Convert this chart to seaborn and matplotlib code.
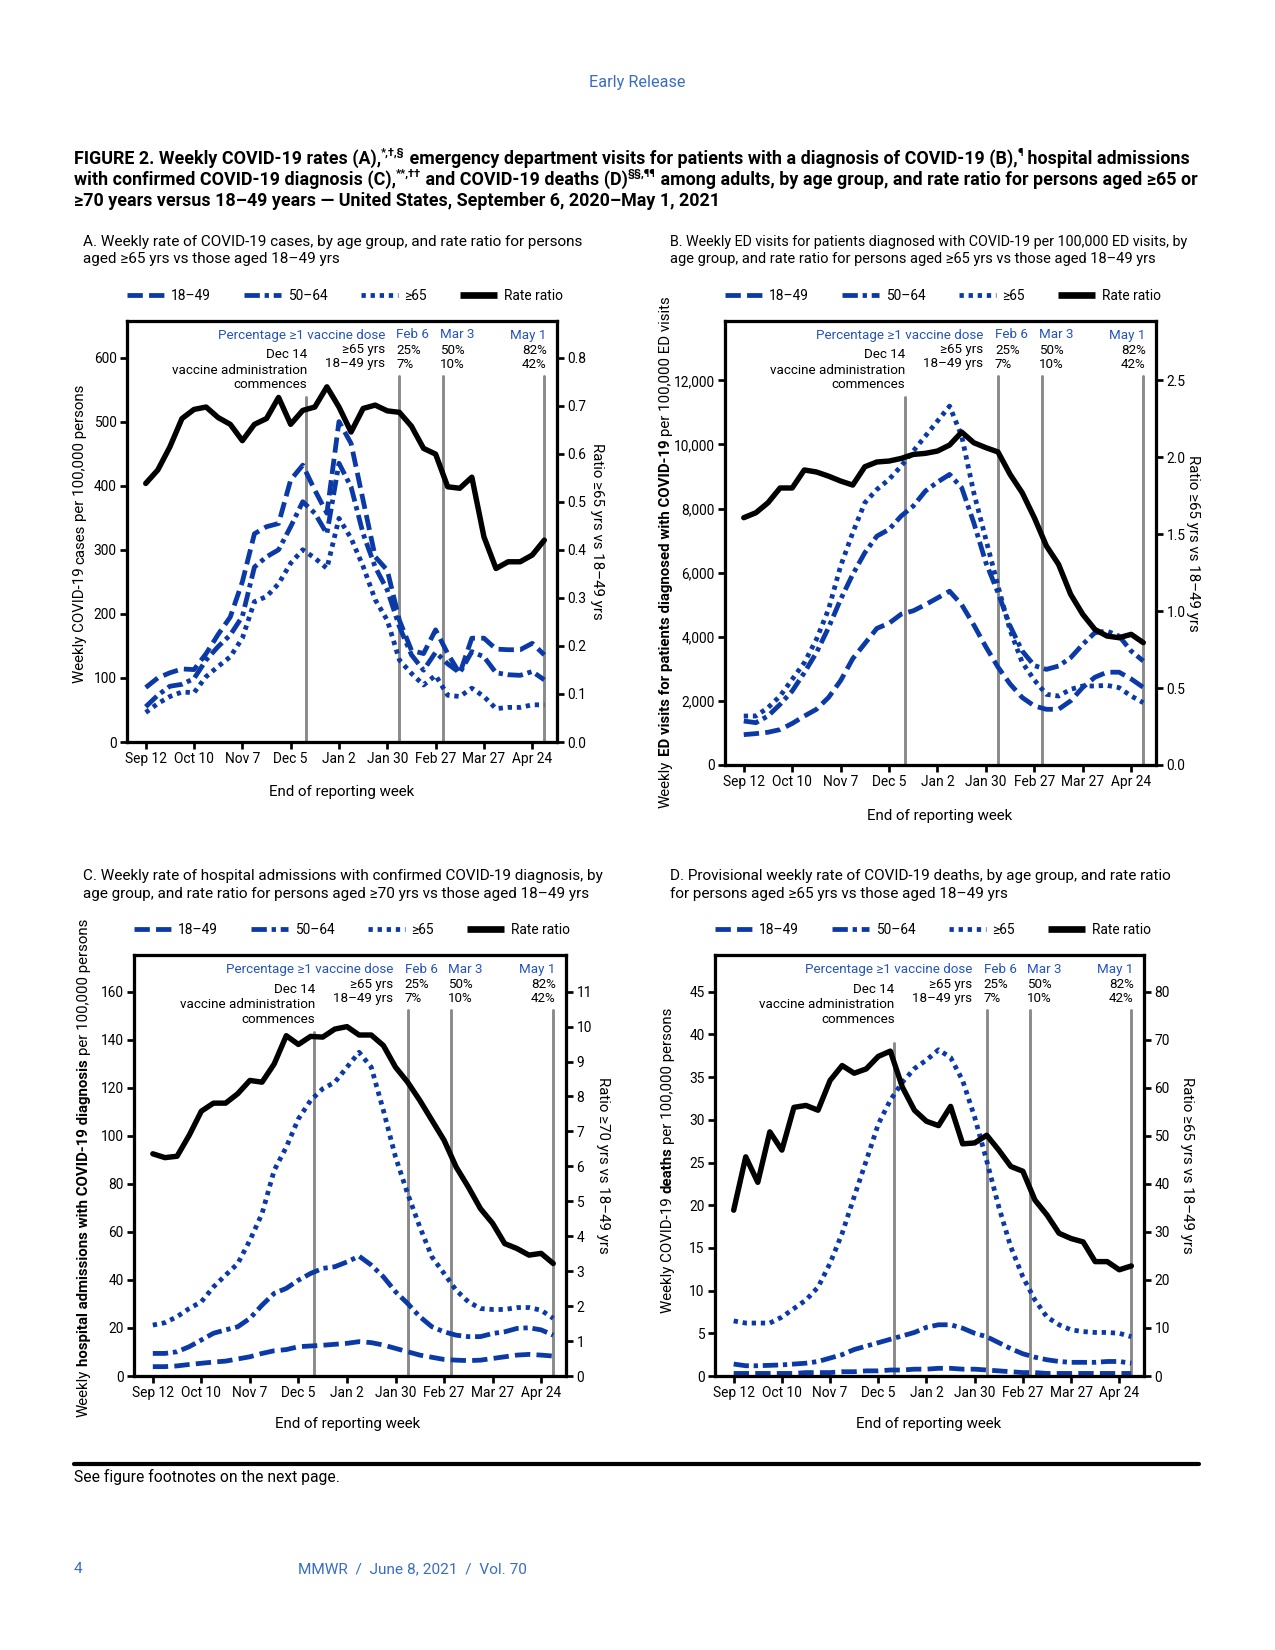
import numpy as np
import pandas as pd
import matplotlib
matplotlib.use('Agg')
import matplotlib.pyplot as plt
import matplotlib.transforms as mtransforms
from matplotlib.lines import Line2D
import seaborn as sns

sns.set_style('ticks', {'axes.edgecolor': 'black', 'text.color': 'black',
                        'xtick.color': 'black', 'ytick.color': 'black',
                        'axes.labelcolor': 'black'})
plt.rcParams['font.family'] = ['Roboto', 'DejaVu Sans']

BLUE = '#0b3aa6'
TXTBLUE = '#2453c0'
PAGEBLUE = '#3a6cc6'
GRAY = '#8a8a8a'

# ---- data (weeks ending Sep 12, 2020 ... May 1, 2021) ----
weeks = np.arange(34)
week_ticks = [0, 4, 8, 12, 16, 20, 24, 28, 32]
week_labels = ['Sep 12', 'Oct 10', 'Nov 7', 'Dec 5', 'Jan 2', 'Jan 30', 'Feb 27', 'Mar 27', 'Apr 24']
groups = ['18–49', '50–64', '≥65']
# event dates as week index: Dec 14, Feb 6, Mar 3, May 1
vline_weeks = [13.3, 21, 24.6, 33]

A_1849 = [85, 100, 108, 114, 113, 138, 168, 195, 250, 325, 336, 341, 409, 432, 393, 357, 500,
          466, 377, 289, 268, 190, 143, 138, 175, 138, 107, 162, 162, 145, 144, 144, 154, 136]
A_5064 = [55, 73, 87, 90, 99, 128, 149, 167, 196, 273, 289, 300, 336, 375, 357, 325, 435,
          398, 325, 273, 237, 180, 136, 112, 140, 122, 108, 141, 133, 108, 105, 104, 110, 97]
A_65 = [46, 60, 71, 78, 77, 102, 118, 133, 162, 219, 227, 247, 279, 300, 287, 271, 349,
        318, 274, 222, 190, 128, 107, 89, 104, 73, 71, 84, 71, 52, 54, 54, 58, 58]
A_ratio = [0.538, 0.566, 0.614, 0.673, 0.692, 0.697, 0.675, 0.661, 0.627, 0.661, 0.673, 0.717,
           0.661, 0.690, 0.697, 0.739, 0.697, 0.645, 0.694, 0.701, 0.689, 0.686, 0.657, 0.611,
           0.599, 0.531, 0.528, 0.551, 0.427, 0.361, 0.375, 0.375, 0.389, 0.420]

B_1849 = [947, 979, 1021, 1105, 1295, 1526, 1737, 2105, 2632, 3316, 3789, 4263, 4421, 4705,
          4810, 5000, 5210, 5421, 5000, 4368, 3684, 3053, 2526, 2105, 1842, 1737, 1737, 2000,
          2421, 2737, 2895, 2895, 2684, 2421]
B_5064 = [1372, 1320, 1528, 1892, 2308, 2879, 3503, 4283, 5166, 5946, 6622, 7141, 7349, 7765,
          8077, 8545, 8825, 9064, 8649, 7557, 6310, 5374, 4335, 3555, 3100, 2983, 3087, 3347,
          3763, 4127, 4179, 4023, 3555, 3243]
B_65 = [1528, 1528, 1788, 2152, 2672, 3191, 3919, 4854, 6206, 7245, 8181, 8597, 8909, 9324,
        9792, 10260, 10728, 11195, 10260, 8493, 7037, 5582, 4200, 3200, 2650, 2204, 2152, 2360,
        2464, 2464, 2484, 2412, 2152, 1944]
B_ratio = [1.607, 1.639, 1.704, 1.80, 1.80, 1.917, 1.904, 1.877, 1.845, 1.819, 1.938, 1.969,
           1.975, 1.992, 2.018, 2.025, 2.04, 2.079, 2.163, 2.094, 2.062, 2.034, 1.888, 1.769,
           1.607, 1.423, 1.304, 1.109, 0.979, 0.881, 0.838, 0.827, 0.849, 0.795]

C_1849 = [3.9, 3.9, 4.2, 4.8, 5.3, 5.8, 6.2, 7.1, 8.0, 9.4, 10.5, 11.0, 12.2, 12.5, 12.8, 13.2,
          13.6, 14.3, 13.9, 12.9, 11.5, 10.1, 8.7, 7.8, 6.9, 6.6, 6.4, 6.6, 7.3, 8.0, 8.7, 9.0,
          8.7, 8.3]
C_5064 = [9.4, 9.4, 10.1, 12.2, 15.0, 17.8, 19.2, 20.5, 24.0, 29.5, 34.4, 36.5, 39.9, 42.7,
          44.8, 45.5, 47.5, 49.9, 46.2, 41.3, 35.1, 30.2, 24.7, 20.5, 18.4, 17.0, 16.4, 16.4,
          17.7, 18.4, 19.8, 20.1, 19.2, 17.0]
C_65 = [21.2, 22.2, 24.7, 28.1, 30.9, 37.1, 42.0, 46.8, 56.5, 67.6, 85.6, 95.3, 107.1, 114.7,
        119.6, 122.3, 128.6, 134.8, 128.6, 110.6, 91.2, 75.9, 62.1, 49.6, 42.7, 35.7, 30.9,
        28.1, 27.7, 27.7, 28.5, 28.5, 27.4, 24.0]
C_ratio = [6.36, 6.25, 6.29, 6.89, 7.58, 7.81, 7.81, 8.08, 8.46, 8.41, 8.93, 9.74, 9.49, 9.72,
           9.70, 9.93, 10.0, 9.76, 9.76, 9.46, 8.84, 8.41, 7.89, 7.32, 6.75, 5.98, 5.41, 4.79,
           4.37, 3.79, 3.65, 3.46, 3.51, 3.22]

D_1849 = [0.3, 0.3, 0.3, 0.3, 0.3, 0.3, 0.4, 0.4, 0.4, 0.5, 0.5, 0.6, 0.6, 0.7, 0.7, 0.8, 0.8,
          0.9, 0.9, 0.8, 0.8, 0.7, 0.6, 0.5, 0.4, 0.4, 0.3, 0.3, 0.3, 0.3, 0.3, 0.3, 0.3, 0.3]
D_5064 = [1.4, 1.2, 1.2, 1.25, 1.3, 1.4, 1.5, 1.7, 2.1, 2.5, 3.1, 3.5, 3.9, 4.3, 4.7, 5.1, 5.7,
          6.0, 6.0, 5.6, 5.0, 4.6, 3.9, 3.2, 2.6, 2.2, 1.9, 1.7, 1.6, 1.6, 1.6, 1.7, 1.7, 1.5]
D_65 = [6.45, 6.2, 6.2, 6.2, 6.9, 7.9, 8.9, 10.4, 13.2, 16.7, 21.0, 25.2, 29.5, 32.3, 34.4,
        36.0, 37.0, 38.2, 37.3, 34.6, 30.3, 25.2, 19.8, 15.1, 11.6, 8.9, 6.9, 6.0, 5.4, 5.2,
        5.1, 5.1, 5.0, 4.6]
D_ratio = [34.5, 45.6, 40.3, 50.8, 47.0, 55.9, 56.3, 55.3, 61.5, 64.6, 63.0, 63.9, 66.5, 67.6,
           60.1, 55.3, 53.0, 52.1, 56.1, 48.3, 48.5, 50.1, 47.0, 43.6, 42.6, 36.6, 33.5, 29.7,
           28.6, 27.9, 23.8, 23.8, 22.1, 22.9]

dash_map = {'18–49': (3.2, 1.3), '50–64': (3.2, 1.0, 0.9, 1.0), '≥65': (0.9, 1.0)}

W, H = 1275, 1650
fig = plt.figure(figsize=(8.5, 11), dpi=150)
R = fig.canvas.get_renderer()


def text_px(x, y, s, **kw):
    return fig.text(x / W, 1 - y / H, s, **kw)


def box(l, t, r, b):
    return [l / W, 1 - b / H, (r - l) / W, (b - t) / H]


FS_TICK = 6.6
FS_ANN = 6.4


def draw_panel(rect, series, ratio, ylim, yticks, ylabels, rlim, rticks, rlabels, dec_off):
    l, t, r, b = rect
    hpx = b - t
    ax = fig.add_axes(box(*rect))
    ax2 = ax.twinx()
    df = pd.DataFrame({'week': np.tile(weeks, 3),
                       'value': np.concatenate([np.asarray(s, float) for s in series]),
                       'group': np.repeat(groups, len(weeks))})
    for x in vline_weeks:
        off = dec_off if x < 20 else 55
        ax.axvline(x, ymin=0, ymax=1 - off / hpx, color=GRAY, lw=1.4, zorder=1)
    sns.lineplot(data=df, x='week', y='value', style='group', style_order=groups,
                 dashes=dash_map, color=BLUE, linewidth=2.3, legend=False,
                 errorbar=None, ax=ax, zorder=3)
    sns.lineplot(x=weeks, y=ratio, color='black', linewidth=2.6, errorbar=None, ax=ax2)
    ax.set_xlim(-1.55, 34.05)
    ax.set_ylim(*ylim)
    ax2.set_ylim(*rlim)
    ax.set_xticks(week_ticks)
    ax.set_xticklabels(week_labels)
    ax.set_yticks(yticks)
    ax.set_yticklabels(ylabels)
    ax2.set_yticks(rticks)
    ax2.set_yticklabels(rlabels)
    for a in (ax, ax2):
        a.set_xlabel('')
        a.set_ylabel('')
        for s in a.spines.values():
            s.set_linewidth(1.5)
            s.set_color('black')
            s.set_visible(True)
    ax.tick_params(axis='both', direction='out', length=3.5, width=1.3,
                   labelsize=FS_TICK, pad=1.5)
    ax2.tick_params(axis='y', direction='out', length=3.5, width=1.3,
                    labelsize=FS_TICK, pad=1.5)

    tr = mtransforms.blended_transform_factory(ax.transData, ax.transAxes)

    def put(x, off, s, ha, color='black'):
        ax.text(x, 1 - off / hpx, s, transform=tr, ha=ha, va='center',
                fontsize=FS_ANN, color=color)

    put(19.8, 14, 'Percentage ≥1 vaccine dose', 'right', TXTBLUE)
    put(20.75, 14, 'Feb 6', 'left', TXTBLUE)
    put(24.35, 14, 'Mar 3', 'left', TXTBLUE)
    put(33.2, 14, 'May 1', 'right', TXTBLUE)
    put(19.8, 29, '≥65 yrs', 'right')
    put(19.8, 43, '18–49 yrs', 'right')
    put(20.75, 29, '25%', 'left')
    put(20.75, 43, '7%', 'left')
    put(24.35, 29, '50%', 'left')
    put(24.35, 43, '10%', 'left')
    put(33.2, 29, '82%', 'right')
    put(33.2, 43, '42%', 'right')
    put(13.35, 34, 'Dec 14', 'right')
    put(13.35, 49, 'vaccine administration', 'right')
    put(13.35, 64, 'commences', 'right')

    handles = [Line2D([], [], color=BLUE, lw=2.3, dashes=dash_map[g]) for g in groups]
    handles.append(Line2D([], [], color='black', lw=3.2, solid_capstyle='butt'))
    ax.legend(handles, groups + ['Rate ratio'], loc='center left',
              bbox_to_anchor=(0.0, 1 + 25 / hpx), ncol=4, frameon=False,
              fontsize=FS_TICK, handlelength=2.7, handletextpad=0.5,
              columnspacing=2.4, borderpad=0, borderaxespad=0)
    return ax, ax2


def vlabel(x, yc, parts, fs):
    p1 = fig.text(0, 0, 'x x', fontsize=fs)
    p2 = fig.text(0, 0, 'xx', fontsize=fs)
    gap = p1.get_window_extent(R).width - p2.get_window_extent(R).width
    p1.remove()
    p2.remove()
    ts = [fig.text(0, 0, s, fontsize=fs, fontweight=w, rotation=90, ha='center', va='bottom')
          for s, w in parts]
    hs = [tt.get_window_extent(R).height for tt in ts]
    total = sum(hs) + gap * (len(ts) - 1)
    y = (H - yc) - total / 2
    for tt, h in zip(ts, hs):
        tt.set_position((x / W, y / H))
        y += h + gap


def advance(s, fs, **kw):
    a = fig.text(0, 0, '|' + s + '|', fontsize=fs, **kw)
    b = fig.text(0, 0, '||', fontsize=fs, **kw)
    w = a.get_window_extent(R).width - b.get_window_extent(R).width
    a.remove()
    b.remove()
    return w


def rich_line(x, y, pieces, fs, **kw):
    # y is the baseline (px from top); pieces are (text, is_superscript)
    cx = x
    for s, sup in pieces:
        size = fs * 0.62 if sup else fs
        yy = y - fs * 0.95 if sup else y
        text_px(cx, yy, s, fontsize=size, va='baseline', **kw)
        cx += advance(s, size, **kw)


# ---- panels ----
draw_panel((127, 321, 557, 742), [A_1849, A_5064, A_65], A_ratio,
           (0, 657), [0, 100, 200, 300, 400, 500, 600],
           ['0', '100', '200', '300', '400', '500', '600'],
           (0, 0.876), [0, 0.1, 0.2, 0.3, 0.4, 0.5, 0.6, 0.7, 0.8],
           ['0.0', '0.1', '0.2', '0.3', '0.4', '0.5', '0.6', '0.7', '0.8'], 76)
draw_panel((725, 321, 1156, 765), [B_1849, B_5064, B_65], B_ratio,
           (0, 13850), [0, 2000, 4000, 6000, 8000, 10000, 12000],
           ['0', '2,000', '4,000', '6,000', '8,000', '10,000', '12,000'],
           (0, 2.885), [0, 0.5, 1.0, 1.5, 2.0, 2.5],
           ['0.0', '0.5', '1.0', '1.5', '2.0', '2.5'], 76)
draw_panel((134, 955, 566, 1376), [C_1849, C_5064, C_65], C_ratio,
           (0, 175.3), list(range(0, 161, 20)), [str(v) for v in range(0, 161, 20)],
           (0, 12.05), list(range(0, 12)), [str(v) for v in range(0, 12)], 77)
draw_panel((715, 955, 1144, 1376), [D_1849, D_5064, D_65], D_ratio,
           (0, 49.3), list(range(0, 46, 5)), [str(v) for v in range(0, 46, 5)],
           (0, 87.6), list(range(0, 81, 10)), [str(v) for v in range(0, 81, 10)], 88)

# ---- panel titles ----
FS_SUB = 7.35
text_px(83, 242, 'A. Weekly rate of COVID-19 cases, by age group, and rate ratio for persons',
        fontsize=FS_SUB, va='center')
text_px(83, 259, 'aged ≥65 yrs vs those aged 18–49 yrs', fontsize=FS_SUB, va='center')
text_px(670, 242, 'B. Weekly ED visits for patients diagnosed with COVID-19 per 100,000 ED visits, by',
        fontsize=6.85, va='center')
text_px(670, 259, 'age group, and rate ratio for persons aged ≥65 yrs vs those aged 18–49 yrs',
        fontsize=7.0, va='center')
text_px(83, 876, 'C. Weekly rate of hospital admissions with confirmed COVID-19 diagnosis, by',
        fontsize=FS_SUB, va='center')
text_px(83, 894, 'age group, and rate ratio for persons aged ≥70 yrs vs those aged 18–49 yrs',
        fontsize=FS_SUB, va='center')
text_px(670, 876, 'D. Provisional weekly rate of COVID-19 deaths, by age group, and rate ratio',
        fontsize=FS_SUB, va='center')
text_px(670, 894, 'for persons aged ≥65 yrs vs those aged 18–49 yrs', fontsize=FS_SUB, va='center')

# ---- x labels ----
FS_LAB = 7.2
for x, y in [(342, 792), (940, 816), (348, 1424), (929, 1424)]:
    text_px(x, y, 'End of reporting week', fontsize=FS_LAB, ha='center', va='center')

# ---- right axis labels ----
text_px(597, 531, 'Ratio ≥65 yrs vs 18–49 yrs', rotation=270, fontsize=FS_LAB, ha='center', va='center')
text_px(1193, 543, 'Ratio ≥65 yrs vs 18–49 yrs', rotation=270, fontsize=FS_LAB, ha='center', va='center')
text_px(603, 1165, 'Ratio ≥70 yrs vs 18–49 yrs', rotation=270, fontsize=FS_LAB, ha='center', va='center')
text_px(1187, 1165, 'Ratio ≥65 yrs vs 18–49 yrs', rotation=270, fontsize=FS_LAB, ha='center', va='center')

# ---- left axis labels (mixed weight) ----
vlabel(80, 534, [('Weekly COVID-19', 'normal'), ('cases', 'normal'),
                 ('per 100,000 persons', 'normal')], FS_LAB)
vlabel(666, 552, [('Weekly', 'normal'), ('ED visits for patients diagnosed with COVID-19', 'bold'),
                  ('per 100,000 ED visits', 'normal')], FS_LAB)
vlabel(84, 1168, [('Weekly', 'normal'), ('hospital admissions with COVID-19 diagnosis', 'bold'),
                  ('per 100,000 persons', 'normal')], FS_LAB)
vlabel(668, 1160, [('Weekly COVID-19', 'normal'), ('deaths', 'bold'),
                   ('per 100,000 persons', 'normal')], FS_LAB)

# ---- page header ----
text_px(637, 82, 'Early Release', fontsize=7.8, color=PAGEBLUE, ha='center', va='center')
FS_HEAD = 8.6
hk = dict(fontweight='bold')
rich_line(74, 164, [('FIGURE 2. Weekly COVID-19 rates (A),', False), ('*,†,§', True),
                    (' emergency department visits for patients with a diagnosis of COVID-19 (B),', False),
                    ('¶', True), (' hospital admissions', False)], FS_HEAD, **hk)
rich_line(74, 185, [('with confirmed COVID-19 diagnosis (C),', False), ('**,††', True),
                    (' and COVID-19 deaths (D)', False), ('§§,¶¶', True),
                    (' among adults, by age group, and rate ratio for persons aged ≥65 or', False)],
          FS_HEAD, **hk)
rich_line(74, 206, [('≥70 years versus 18–49 years — United States, September 6, 2020–May 1, 2021', False)],
          FS_HEAD, **hk)

# ---- page footer ----
fig.add_artist(Line2D([74 / W, 1199 / W], [1 - 1464 / H, 1 - 1464 / H], color='black', lw=2.0))
text_px(74, 1477, 'See figure footnotes on the next page.', fontsize=7.5, va='center')
text_px(74, 1569, '4', fontsize=7.4, color=PAGEBLUE, va='center')
text_px(412, 1569, 'MMWR  /  June 8, 2021  /  Vol. 70', fontsize=7.4, color=PAGEBLUE,
        ha='center', va='center')

fig.savefig('out.png', dpi=150)
